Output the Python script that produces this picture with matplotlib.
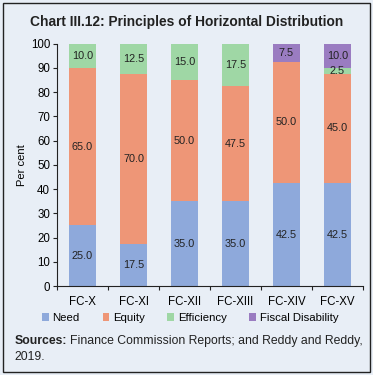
import matplotlib
matplotlib.use("Agg")
import matplotlib.pyplot as plt
from matplotlib.patches import Rectangle
import numpy as np

plt.rcParams['font.family'] = ['Liberation Sans', 'DejaVu Sans']

categories = ["FC-X", "FC-XI", "FC-XII", "FC-XIII", "FC-XIV", "FC-XV"]
need = [25.0, 17.5, 35.0, 35.0, 42.5, 42.5]
equity = [65.0, 70.0, 50.0, 47.5, 50.0, 45.0]
efficiency = [10.0, 12.5, 15.0, 17.5, 0.0, 2.5]
fiscal_disability = [0.0, 0.0, 0.0, 0.0, 7.5, 10.0]
series_names = ["Need", "Equity", "Efficiency", "Fiscal Disability"]
colors = ["#8EA9DB", "#EE9677", "#9FD7A5", "#9A7CC1"]
yticks = [0, 10, 20, 30, 40, 50, 60, 70, 80, 90, 100]

bg = "#E8EEF6"
fig = plt.figure(figsize=(3.73, 3.75), dpi=100, facecolor=bg)
fig.patches.append(Rectangle((0.008, 0.008), 0.984, 0.984, transform=fig.transFigure,
                             fill=False, edgecolor="#222222", linewidth=1.0))

ax = fig.add_axes([0.153, 0.237, 0.82, 0.647], facecolor=bg)
x = np.arange(len(categories))
series = [need, equity, efficiency, fiscal_disability]
bottom = np.zeros(len(categories))
for vals, name, c in zip(series, series_names, colors):
    v = np.array(vals)
    ax.bar(x, v, bottom=bottom, width=0.53, color=c, label=name, zorder=2)
    for xi, b, val in zip(x, bottom, v):
        if val > 0:
            ax.text(xi, b + val / 2, f"{val:.1f}", ha="center", va="center",
                    fontsize=7.8, color="#222222", zorder=3)
    bottom += v

ax.set_xlim(-0.5, len(categories) - 0.5)
ax.set_ylim(0, 100)
ax.set_yticks(yticks)
ax.tick_params(axis="y", labelsize=8.3, length=3, width=0.8, color="#222222", pad=2)
ax.set_xticks(x)
ax.set_xticklabels(categories, fontsize=8.3)
ax.tick_params(axis="x", length=0, pad=7)
ax.set_xticks(np.arange(-0.5, len(categories) - 0.4, 1), minor=True)
ax.tick_params(axis="x", which="minor", length=3, width=0.8, color="#222222", direction="out")
for s in ["top", "right"]:
    ax.spines[s].set_visible(False)
for s in ["left", "bottom"]:
    ax.spines[s].set_color("#222222")
    ax.spines[s].set_linewidth(0.8)
ax.set_ylabel("Per cent", fontsize=8, labelpad=3)

fig.text(0.5, 0.942, "Chart III.12: Principles of Horizontal Distribution", ha="center", va="center",
         fontsize=9.9, fontweight="bold", color="#222222")

handles, labels = ax.get_legend_handles_labels()
fig.legend(handles, labels, loc="center", bbox_to_anchor=(0.51, 0.152), ncol=4, frameon=False,
           fontsize=8.2, handlelength=0.6, handleheight=0.6, handletextpad=0.3, columnspacing=2.0)

fig.canvas.draw()
renderer = fig.canvas.get_renderer()
t1 = fig.text(0.04, 0.091, "Sources:", ha="left", va="center", fontsize=8.8,
              fontweight="bold", color="#222222")
bb = t1.get_window_extent(renderer=renderer)
x2 = (bb.x1 + 3) / fig.bbox.width
fig.text(x2, 0.091, "Finance Commission Reports; and Reddy and Reddy,",
         ha="left", va="center", fontsize=8.8, color="#222222")
fig.text(0.04, 0.047, "2019.", ha="left", va="center", fontsize=8.8, color="#222222")

fig.savefig("out.png", dpi=100, facecolor=bg)
